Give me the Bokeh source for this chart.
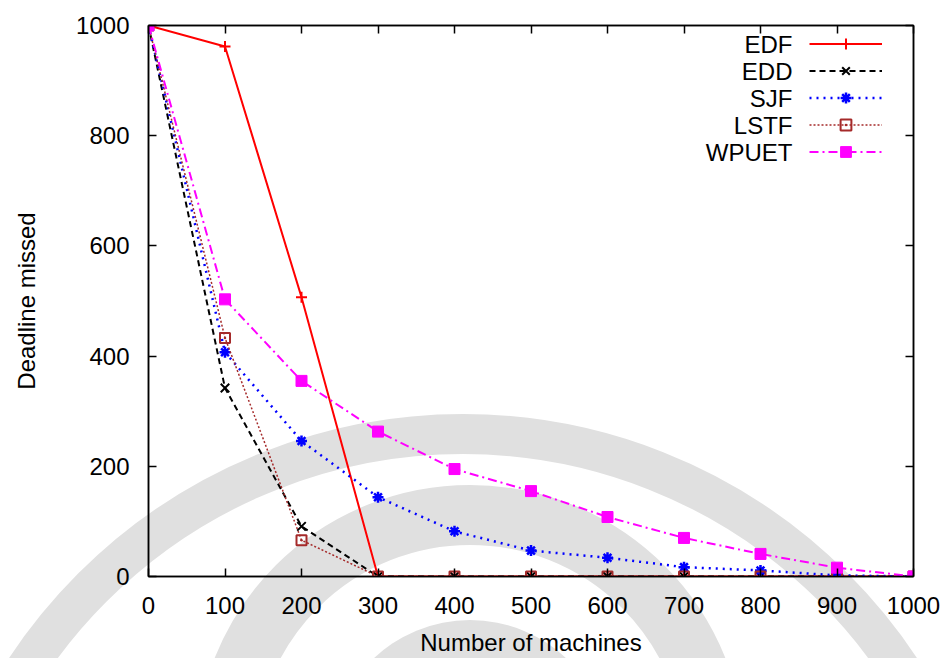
import urllib.parse
from bokeh.plotting import figure
from bokeh.models import Range1d, LinearAxis, FixedTicker, Legend, LegendItem, Label
from bokeh.embed import file_html
from bokeh.resources import INLINE

# ---------------- data ----------------
machines = [0, 100, 200, 300, 400, 500, 600, 700, 800, 900, 1000]
edf = [1000, 962, 507, 0, 0, 0, 0, 0, 0, 0, 0]
edd = [1000, 342, 91, 0, 0, 0, 0, 0, 0, 0, 0]
sjf = [1000, 407, 246, 144, 82, 47, 34, 17, 11, 2, 0]
lstf = [1000, 433, 66, 0, 0, 0, 0, 0, 0, 0, 0]
wpuet = [1000, 503, 355, 263, 195, 155, 108, 70, 41, 16, 0]
series_names = ["EDF", "EDD", "SJF", "LSTF", "WPUET"]
x_ticks = [0, 100, 200, 300, 400, 500, 600, 700, 800, 900, 1000]
y_ticks = [0, 200, 400, 600, 800, 1000]
x_label = "Number of machines"
y_label = "Deadline missed"

FONT = "Liberation Sans"
FS = "24px"
W, H = 945, 658

# light grey watermark behind the chart (decoration only)
wm = (
    f'<svg xmlns="http://www.w3.org/2000/svg" width="{W}" height="{H}">'
    '<circle cx="463" cy="958" r="524" fill="none" stroke="#e0e0e0" stroke-width="40"/>'
    '<circle cx="470" cy="760" r="245" fill="none" stroke="#e0e0e0" stroke-width="60"/>'
    '<circle cx="470" cy="760" r="140" fill="#e0e0e0"/>'
    '</svg>'
)
wm_url = 'url("data:image/svg+xml;utf8,' + urllib.parse.quote(wm, safe="") + '")'

p = figure(width=W, height=H, output_backend="svg", toolbar_location=None,
           x_range=Range1d(0, 1000), y_range=Range1d(0, 1000),
           min_border_left=148, min_border_right=32, min_border_top=25, min_border_bottom=79,
           background_fill_color=None, border_fill_color=None,
           outline_line_color="black", outline_line_width=1.5)
p.styles = {"background-image": wm_url, "background-repeat": "no-repeat",
            "background-size": f"{W}px {H}px"}
p.grid.visible = False


def style_axis(ax, ticks, labels=True):
    ax.ticker = FixedTicker(ticks=ticks)
    ax.axis_line_color = "black"
    ax.axis_line_width = 1.5
    ax.major_tick_line_color = "black"
    ax.major_tick_line_width = 1.5
    ax.major_tick_in = 8
    ax.major_tick_out = 0
    ax.minor_tick_line_color = None
    ax.major_label_text_font = FONT
    ax.axis_label_text_font = FONT
    ax.axis_label_text_font_size = FS
    ax.axis_label_text_font_style = "normal"
    ax.axis_label_text_color = "black"
    if labels:
        ax.major_label_text_font_size = FS
        ax.major_label_text_color = "black"
    else:
        # mirror axis: ticks only, labels not drawn at all
        ax.major_label_text_font_size = "0px"
        ax.major_label_text_color = None
        ax.major_label_standoff = 0


style_axis(p.xaxis[0], x_ticks)
style_axis(p.yaxis[0], y_ticks)
p.xaxis.axis_label = x_label
p.yaxis.axis_label = y_label
p.xaxis.major_label_standoff = 20
p.xaxis.axis_label_standoff = 12
p.yaxis.major_label_standoff = 19
p.yaxis.axis_label_standoff = 33

top_ax = LinearAxis()
style_axis(top_ax, x_ticks, labels=False)
p.add_layout(top_ax, "above")
right_ax = LinearAxis()
style_axis(right_ax, y_ticks, labels=False)
p.add_layout(right_ax, "right")

specs = [
    (edf, "#ff0000", "solid", 2, "cross", 11, 2, None),
    (edd, "#000000", "6 4", 2, "x", 12, 2, None),
    (sjf, "#0000ff", "2 5", 2.5, "asterisk", 11, 2.5, None),
    (lstf, "#a52a2a", "2 2", 1.5, "square_dot", 10, 2, None),
    (wpuet, "#ff00ff", "9 4 2 4", 2, "square", 11, 1, "#ff00ff"),
]

items = []
for name, (ys, col, dash, lw, mk, ms, mlw, fill) in zip(series_names, specs):
    ln = p.line(machines, ys, line_color=col, line_width=lw, line_dash=dash)
    sc = p.scatter(machines, ys, marker=mk, size=ms, line_color=col, line_width=mlw,
                   fill_color=fill)
    items.append(LegendItem(label=" ", renderers=[ln, sc]))

row_h = 27
leg_top = 8          # px below the frame top
leg_left = 661       # px from the frame left
frame_h = 554
legend = Legend(items=items, location=(leg_left, frame_h - leg_top - row_h * len(items)),
                glyph_width=73, glyph_height=row_h, label_height=0, label_width=0,
                spacing=0, padding=0, margin=0, label_standoff=0,
                label_text_font_size="10px", label_text_color=None,
                border_line_color=None, background_fill_alpha=0)
p.add_layout(legend)

for i, name in enumerate(series_names):
    p.add_layout(Label(x=leg_left - 17, y=frame_h - leg_top - row_h * (i + 0.5),
                       x_units="screen", y_units="screen", text=name,
                       text_align="right", text_baseline="middle",
                       text_font=FONT, text_font_size=FS, text_color="black"))

open("out.html", "w").write(file_html(p, INLINE))
